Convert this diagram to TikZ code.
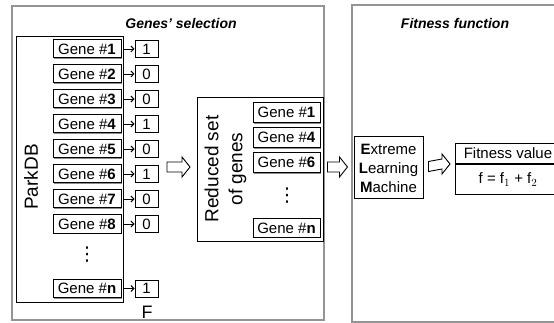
\documentclass[tikz,border=0pt]{standalone}
\usepackage{fontspec}
\setmainfont{Liberation Sans}
\newfontfamily\dejavu{DejaVu Sans}
\usetikzlibrary{arrows.meta,calc,shadows}
\newcommand{\blkarrow}[2]{%
  \draw[line width=0.9pt, fill=white, line join=miter]
    ($(#1)+(0,-5)$) -- ($(#2)+(-8,-5)$) -- ($(#2)+(-8,-10)$) -- (#2)
    -- ($(#2)+(-8,10)$) -- ($(#2)+(-8,5)$) -- ($(#1)+(0,5)$) -- cycle;}
\begin{document}
\begin{tikzpicture}[x=1pt,y=-1pt,
  panel/.style={draw=black!42, line width=1.2pt},
  box/.style={draw, line width=1pt, fill=white, inner sep=0pt, font=\fontsize{15}{18}\selectfont},
  shbox/.style={box, drop shadow={shadow xshift=1.2pt, shadow yshift=-1.2pt, fill=black!45, opacity=1}},
  genebox/.style={shbox, minimum width=68pt, minimum height=18pt},
  rgenebox/.style={shbox, minimum width=67pt, minimum height=20pt},
  valbox/.style={box, minimum width=23pt, minimum height=17pt},
  smallarrow/.style={-{Straight Barb[length=3pt,width=6pt]}, line width=0.9pt},
  title/.style={font=\fontsize{14}{16}\selectfont\bfseries\itshape},
  biglabel/.style={font=\fontsize{19}{24}\selectfont},
  dotsstyle/.style={font=\dejavu\fontsize{19}{22}\selectfont, inner sep=0pt}
]
\useasboundingbox (0,0) rectangle (554,323);
\clip (0,0) rectangle (554,323);
% panels
\draw[panel] (12,6) rectangle (324,320);
\draw[panel] (352,5) rectangle (570,322);
\node[title] (t1) at (181,23) {Genes’ selection};
\node[title] (t2) at (455,23) {Fitness function};
% ParkDB
\node[draw, line width=1pt, minimum width=107pt, minimum height=265pt, inner sep=0pt] (parkdb) at (69.5,169.5) {};
\node[biglabel, rotate=90] (parklabel) at (31,177) {ParkDB};
\foreach \i/\v in {1/1,2/0,3/0,4/1,5/0,6/1,7/0,8/0}{
  \node[genebox] (g\i) at (87,{49+25*(\i-1)}) {Gene \#\textbf{\i}};
  \node[valbox] (v\i) at (146.5,{49+25*(\i-1)}) {\v};
  \draw[smallarrow] ($(g\i.east)+(2.5,0)$) -- (v\i.west);
}
\node[dotsstyle] (gdots) at (87,255) {⋮};
\node[genebox] (gn) at (87,288.5) {Gene \#\textbf{n}};
\node[valbox] (vn) at (146.5,288.5) {1};
\draw[smallarrow] ($(gn.east)+(2.5,0)$) -- (vn.west);
\node[font=\fontsize{18}{20}\selectfont] (F) at (147,312) {F};
% reduced set
\node[shbox, minimum width=126pt, minimum height=143pt] (reduced) at (260,169.5) {};
\node[biglabel, rotate=90, align=center] (redlabel) at (225.5,169) {Reduced set\\of genes};
\node[rgenebox] (r1) at (286.5,112.5) {Gene \#\textbf{1}};
\node[rgenebox] (r4) at (286.5,137.5) {Gene \#\textbf{4}};
\node[rgenebox] (r6) at (286.5,162.5) {Gene \#\textbf{6}};
\node[dotsstyle] (rdots) at (287,196) {⋮};
\node[rgenebox, minimum height=18pt] (rn) at (286.5,228) {Gene \#\textbf{n}};
% ELM
\node[box, minimum width=69pt, minimum height=62pt, align=center, font=\fontsize{15}{19}\selectfont] (elm) at (388.5,168)
  {\textbf{E}xtreme\\\textbf{L}earning\\\textbf{M}achine};
% Fitness
\node[box, minimum width=105pt, minimum height=20pt, anchor=north west] (fit) at (455,143) {Fitness value};
\node[box, minimum width=105pt, minimum height=30pt, anchor=north west] (fval) at (fit.south west) {f = f$_1$ + f$_2$};
% block arrows
\coordinate (a1s) at (167,167);
\coordinate (a1e) at (190,167);
\blkarrow{a1s}{a1e}
\coordinate (a2s) at ($(reduced.east)+(4,-2.5)$);
\coordinate (a2e) at ($(elm.west)+(-6,-1)$);
\blkarrow{a2s}{a2e}
\coordinate (a3s) at ($(elm.east)+(5,-1.5)$);
\coordinate (a3e) at ($(fit.south west)+(-5,0)$);
\blkarrow{a3s}{a3e}
\end{tikzpicture}
\end{document}
